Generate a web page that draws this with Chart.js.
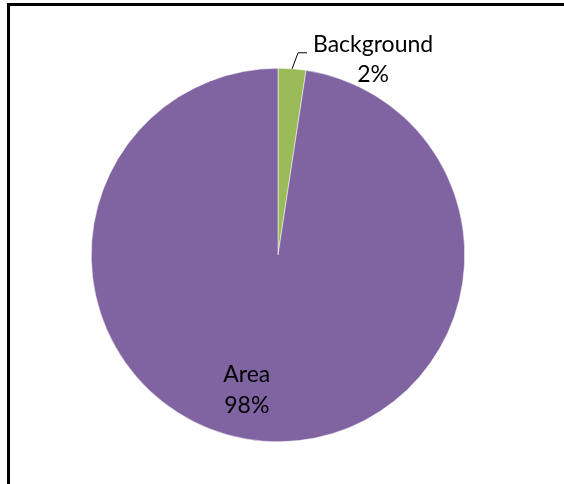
<!DOCTYPE html>
<html>
<head>
<meta charset="utf-8">
<script src="https://cdn.jsdelivr.net/npm/chart.js@4/dist/chart.umd.min.js"></script>
<style>
    body { margin: 0; background: #fff; }
    #frame {
        position: absolute; left: 7px; top: 3px; right: 0; bottom: 0;
        border-left: 3px solid #000; border-top: 3px solid #000;
    }
    #pieChart { position: absolute; left: 0; top: 0; }
</style>
</head>
<body>
<div id="frame"></div>
<canvas id="pieChart" width="564" height="484"></canvas>
<script>
const categories = ['Background', 'Area'];
const shares = [2.4, 97.6];
const colors = ['#9BBB59', '#8064A2'];

const labelFont = '23px Lato, "Open Sans", sans-serif';

// writes "name / percent" next to each slice, outside with a leader for the small one
const sliceLabels = {
    id: 'sliceLabels',
    afterDatasetsDraw(chart) {
        const ctx = chart.ctx;
        const meta = chart.getDatasetMeta(0);
        const total = shares.reduce((a, b) => a + b, 0);
        ctx.save();
        ctx.font = labelFont;
        ctx.fillStyle = '#000';
        ctx.textAlign = 'center';
        ctx.textBaseline = 'alphabetic';
        meta.data.forEach((arc, i) => {
            const pct = Math.round(shares[i] / total * 100) + '%';
            const mid = (arc.startAngle + arc.endAngle) / 2;
            if (shares[i] / total < 0.1) {
                const ex = arc.x + Math.cos(mid) * arc.outerRadius;
                const ey = arc.y + Math.sin(mid) * arc.outerRadius;
                ctx.strokeStyle = '#000';
                ctx.lineWidth = 1;
                ctx.beginPath();
                ctx.moveTo(ex, ey);
                ctx.lineTo(ex + 6, ey - 16);
                ctx.lineTo(ex + 15, ey - 16);
                ctx.stroke();
                ctx.fillText(categories[i], ex + 81, ey - 17);
                ctx.fillText(pct, ex + 81, ey + 13);
            } else {
                const r = arc.outerRadius * 0.74;
                const lx = arc.x + Math.cos(mid + 0.16) * r;
                const ly = arc.y + Math.sin(mid + 0.16) * r;
                ctx.fillText(categories[i], lx + 1, ly - 7);
                ctx.fillText(pct, lx + 1, ly + 24);
            }
        });
        ctx.restore();
    }
};

new Chart(document.getElementById('pieChart').getContext('2d'), {
    type: 'pie',
    data: {
        labels: categories,
        datasets: [{
            data: shares,
            backgroundColor: colors,
            borderColor: '#ffffff',
            borderWidth: 0.5
        }]
    },
    options: {
        responsive: false,
        animation: false,
        layout: { padding: { left: 91, right: 99, top: 68, bottom: 42 } },
        plugins: {
            legend: { display: false },
            tooltip: { enabled: false }
        }
    },
    plugins: [sliceLabels]
});
</script>
</body>
</html>
